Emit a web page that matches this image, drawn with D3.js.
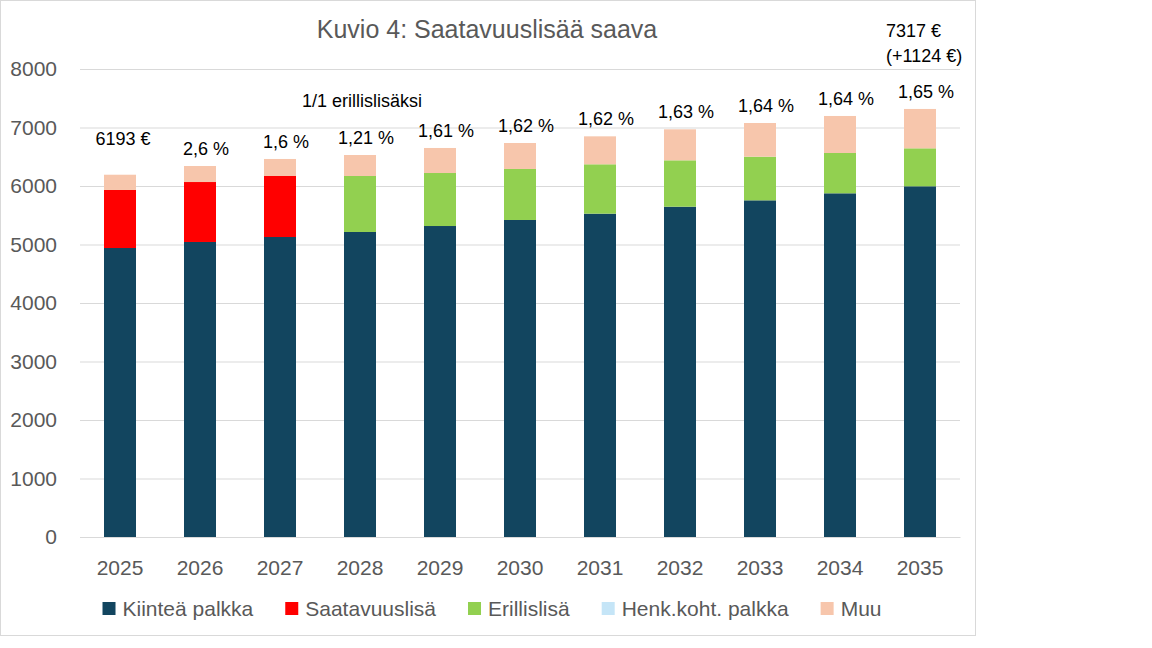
<!DOCTYPE html>
<html>
<head>
<meta charset="utf-8">
<script src="https://cdn.jsdelivr.net/npm/d3@7"></script>
<style>
  body { margin: 0; background: #fff; }
  text { font-family: "Liberation Sans", Arial, sans-serif; }
</style>
</head>
<body>
<svg width="1152" height="648"></svg>
<script>
// Kuvio 4 - pinottu pylväs

const vuodet = ['2025', '2026', '2027', '2028', '2029', '2030', '2031', '2032', '2033', '2034', '2035'];
const kiintea = [4940, 5043, 5128, 5214, 5316, 5419, 5527, 5646, 5755, 5875, 5995];
const saatavuus = [992, 1025, 1043, 0, 0, 0, 0, 0, 0, 0, 0];
const erillis = [0, 0, 0, 957, 906, 872, 844, 793, 746, 689, 649];
const henk = [0, 0, 0, 0, 0, 0, 0, 0, 0, 0, 0];
const muu = [261, 274, 291, 359, 428, 444, 478, 530, 576, 633, 673];
const ylaLabelit = ['6193 €', '2,6 %', '1,6 %', '1,21 %', '1,61 %', '1,62 %', '1,62 %', '1,63 %', '1,64 %', '1,64 %', '1,65 %'];
const sarjat = ['Kiinteä palkka', 'Saatavuuslisä', 'Erillislisä', 'Henk.koht. palkka', 'Muu'];
const yTicks = [0, 1000, 2000, 3000, 4000, 5000, 6000, 7000, 8000];

const varit = ['#12455f', '#ff0000', '#92d050', '#c5e5f7', '#f7c6ac'];

const svg = d3.select('svg');

// kehys
svg.append('rect')
  .attr('x', 0.5).attr('y', 0.5)
  .attr('width', 975).attr('height', 635)
  .attr('fill', '#fff')
  .attr('stroke', '#d9d9d9');

svg.append('text')
  .attr('x', 487).attr('y', 38)
  .attr('text-anchor', 'middle')
  .attr('font-size', 25)
  .attr('fill', '#595959')
  .text('Kuvio 4: Saatavuuslisää saava');

const xScale = d3.scaleBand()
  .domain(vuodet)
  .range([80, 960])
  .paddingInner(0.6)
  .paddingOuter(0.3);

const yScale = d3.scaleLinear()
  .domain([0, 8000])
  .range([537, 69]);

// taulukko stackia varten
const taulu = vuodet.map((v, i) => ({
  vuosi: v,
  'Kiinteä palkka': kiintea[i],
  'Saatavuuslisä': saatavuus[i],
  'Erillislisä': erillis[i],
  'Henk.koht. palkka': henk[i],
  'Muu': muu[i]
}));

const pinot = d3.stack().keys(sarjat)(taulu);

// gridit
const yAxis = svg.append('g')
  .attr('transform', 'translate(80,0)')
  .call(d3.axisLeft(yScale).tickValues(yTicks).tickFormat(d3.format('d')).tickSize(-880).tickPadding(23));
yAxis.select('.domain').remove();
yAxis.selectAll('line').attr('stroke', '#d9d9d9');
yAxis.selectAll('text').attr('font-size', 21).attr('fill', '#595959').attr('font-family', '"Liberation Sans", Arial, sans-serif');

const xAxis = svg.append('g')
  .attr('transform', 'translate(0,537)')
  .call(d3.axisBottom(xScale).tickSize(0).tickPadding(23));
xAxis.select('.domain').attr('stroke', '#d9d9d9');
xAxis.selectAll('text').attr('font-size', 21).attr('fill', '#595959').attr('font-family', '"Liberation Sans", Arial, sans-serif');

svg.append('g')
  .selectAll('g')
  .data(pinot)
  .join('g')
  .attr('fill', (d, i) => varit[i])
  .selectAll('rect')
  .data(d => d)
  .join('rect')
  .attr('x', d => xScale(d.data.vuosi))
  .attr('y', d => yScale(d[1]))
  .attr('width', xScale.bandwidth())
  .attr('height', d => yScale(d[0]) - yScale(d[1]));

// labelit pylväiden päälle
const summat = taulu.map(d => sarjat.reduce((s, k) => s + d[k], 0));

svg.append('g')
  .selectAll('text')
  .data(ylaLabelit)
  .join('text')
  .attr('x', (d, i) => xScale(vuodet[i]) + xScale.bandwidth() / 2 + (i === 0 ? 3 : 6))
  .attr('y', (d, i) => yScale(summat[i]) - (i === 0 ? 30 : 11))
  .attr('text-anchor', 'middle')
  .attr('font-size', 18)
  .attr('fill', '#000')
  .text(d => d);

svg.append('text')
  .attr('x', xScale('2028') + xScale.bandwidth() / 2 + 2)
  .attr('y', 107)
  .attr('text-anchor', 'middle')
  .attr('font-size', 18)
  .attr('fill', '#000')
  .text('1/1 erillislisäksi');

svg.append('text')
  .attr('x', 886).attr('y', 37)
  .attr('font-size', 18)
  .attr('fill', '#000')
  .text('7317 €');

svg.append('text')
  .attr('x', 886).attr('y', 62)
  .attr('font-size', 18)
  .attr('fill', '#000')
  .text('(+1124 €)');

// selite
const selite = svg.append('g').attr('transform', 'translate(0,609)');
const itemit = selite.selectAll('g')
  .data(sarjat)
  .join('g');
itemit.append('rect')
  .attr('y', -7)
  .attr('width', 13).attr('height', 13)
  .attr('fill', (d, i) => varit[i]);
itemit.append('text')
  .attr('x', 20)
  .attr('dy', '0.35em')
  .attr('font-size', 21)
  .attr('fill', '#595959')
  .text(d => d);

let xPos = 0;
const leveydet = [];
itemit.each(function () {
  const w = 20 + d3.select(this).select('text').node().getComputedTextLength();
  leveydet.push(w);
});
const koko = d3.sum(leveydet) + 32 * (leveydet.length - 1);
xPos = 492 - koko / 2;
itemit.attr('transform', (d, i) => {
  const t = 'translate(' + xPos + ',0)';
  xPos += leveydet[i] + 32;
  return t;
});
</script>
</body>
</html>
